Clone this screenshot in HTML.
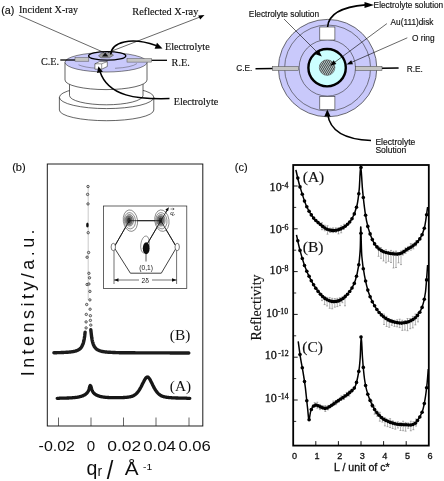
<!DOCTYPE html>
<html><head><meta charset="utf-8"><title>Figure</title>
<style>
html,body{margin:0;padding:0;background:#fff;}
svg{display:block;}
.se{font-family:"Liberation Serif",serif;fill:#111;}
text{fill:#111;}
.bd{stroke:#111;stroke-width:0.15px;}
.bd2{stroke:#111;stroke-width:0.3px;}
</style></head><body>
<svg width="444" height="481" viewBox="0 0 444 481">
<rect width="444" height="481" fill="#fff"/>
<defs><filter id="soft" x="0" y="0" width="444" height="481" filterUnits="userSpaceOnUse"><feGaussianBlur stdDeviation="0.38"/></filter></defs>
<g filter="url(#soft)">
<g id="a-left">
<path d="M59.4 97.3 A47.2 11 0 0 1 153.8 97.3 L153.8 110 A47.2 10.7 0 0 1 59.4 110 Z" fill="#fff" stroke="#222" stroke-width="0.7"/>
<path d="M59.4 97.3 A47.2 11.3 0 0 0 153.8 97.3" fill="none" stroke="#222" stroke-width="0.7"/>
<path d="M69.5 78 L69.5 95.5 A36.75 9.3 0 0 0 143 95.5 L143 78 Z" fill="#fff" stroke="#222" stroke-width="0.7"/>
<path d="M65 62.3 L65 80 A41 9.6 0 0 0 147 80 L147 62.3 Z" fill="#fff" stroke="#222" stroke-width="0.7"/>
<ellipse cx="106" cy="62.3" rx="41" ry="9.7" fill="#c9c9fb" stroke="#333" stroke-width="0.6"/>
<path d="M78.5 64.8 A30 7 0 0 0 97 68.3 M115 68.3 A30 7 0 0 0 137 63.5" fill="none" stroke="#444" stroke-width="0.45"/>
<line x1="60.3" y1="60" x2="75" y2="60" stroke="#000" stroke-width="1.3"/>
<rect x="75" y="57.7" width="13.8" height="3.5" fill="#c4c4c4" stroke="#555" stroke-width="0.5"/>
<line x1="150" y1="60.3" x2="167" y2="60.3" stroke="#000" stroke-width="1.3"/>
<rect x="127" y="58.6" width="24.7" height="3.5" fill="#c4c4c4" stroke="#555" stroke-width="0.5"/>
<ellipse cx="107.2" cy="55.9" rx="18.6" ry="4.25" fill="#c9c9fb" stroke="#000" stroke-width="1.3"/>
<path d="M98.5 56 L101.5 52.9 L110.5 52.5 L113.5 55.2 L109.5 57.8 L101 57.8 Z" fill="#999" stroke="#444" stroke-width="0.5"/>
<path d="M102 56.6 L105.2 52.4 L108.4 56.6 Z" fill="#111"/>
<path d="M94.9 63.8 L99.5 61.6 L107.3 61.6 L107.3 66.5 L101.7 69.2 L94.9 69.2 Z" fill="#fff" stroke="#333" stroke-width="0.6"/>
<path d="M94.9 63.8 L101.7 63.8 L107.3 61.6 M101.7 63.8 L101.7 69.2" fill="none" stroke="#333" stroke-width="0.5"/>
<line x1="18.8" y1="15.2" x2="104" y2="52.5" stroke="#000" stroke-width="0.6"/>
<line x1="108" y1="52.5" x2="200" y2="17" stroke="#000" stroke-width="0.6"/>
<path d="M204.5 15 L198.2 15.6 L200.2 19.4 Z" fill="#000"/>
<path d="M110.7 54.5 C111.5 42 131 36.5 156 45.5" fill="none" stroke="#000" stroke-width="1.5"/>
<path d="M162.5 48.6 L154.6 48.7 L157 42.8 Z" fill="#000"/>
<path d="M169.5 98.6 C138 99.5 108 97 99.8 71" fill="none" stroke="#000" stroke-width="1.5"/>
<path d="M98.4 66.3 L102.9 71.7 L97 73 Z" fill="#000"/>
<text x="1.2" y="14.2" font-family="Liberation Sans, sans-serif" font-size="10.8" class="bd">(a)</text>
<text x="19" y="13.3" class="se bd" font-size="10.1">Incident X-ray</text>
<text x="132.3" y="15.2" class="se bd" font-size="10.3">Reflected X-ray</text>
<text x="165" y="50.3" class="se bd" font-size="10.2">Electrolyte</text>
<text x="41" y="64.8" class="se bd" font-size="10.2">C.E.</text>
<text x="171.6" y="66.1" class="se bd" font-size="10.2">R.E.</text>
<text x="173.8" y="104.9" class="se bd" font-size="10.15">Electrolyte</text>
</g>
<g id="a-right">
<ellipse cx="327.6" cy="68.10000000000001" rx="49.2" ry="48.7" fill="#c9c9fb" stroke="#333" stroke-width="0.7"/>
<circle cx="327.6" cy="68.0" r="43" fill="none" stroke="#333" stroke-width="0.6"/>
<circle cx="327.3" cy="67.9" r="28.2" fill="none" stroke="#333" stroke-width="0.6"/>
<circle cx="327.1" cy="67.7" r="18.7" fill="#ccffff" stroke="#000" stroke-width="2.4"/>
<defs><pattern id="hx" width="2" height="3.4" patternUnits="userSpaceOnUse"><rect width="2" height="3.4" fill="#555"/><circle cx="0.5" cy="0.85" r="0.62" fill="#d4f4f4"/><circle cx="1.5" cy="2.55" r="0.62" fill="#d4f4f4"/></pattern></defs>
<circle cx="327.1" cy="67.60000000000001" r="7.8" fill="url(#hx)" stroke="#444" stroke-width="0.5"/>
<rect x="319.8" y="27" width="15.1" height="13" fill="#fff" stroke="#333" stroke-width="0.6"/>
<rect x="319.8" y="96.6" width="15.1" height="13" fill="#fff" stroke="#333" stroke-width="0.6"/>
<line x1="255.5" y1="68.8" x2="273" y2="68.5" stroke="#000" stroke-width="1.4"/>
<rect x="272.4" y="66.5" width="26.2" height="4" fill="#c4c4c4" stroke="#444" stroke-width="0.5"/>
<line x1="381" y1="68.2" x2="398.6" y2="68" stroke="#000" stroke-width="1.4"/>
<rect x="355.6" y="66.3" width="26.4" height="4.2" fill="#c4c4c4" stroke="#444" stroke-width="0.5"/>
<path d="M327.6 27 C328.5 15 340 7 365.5 4.9" fill="none" stroke="#000" stroke-width="1.6"/>
<path d="M374 4.9 L364.5 1.9 L364.5 7.9 Z" fill="#000"/>
<path d="M371 140.5 C345 139.5 329.8 131 327.7 114" fill="none" stroke="#000" stroke-width="1.6"/>
<path d="M327.3 109.6 L330.6 116.6 L324.3 116.6 Z" fill="#000"/>
<line x1="284" y1="19" x2="318" y2="53" stroke="#000" stroke-width="0.6"/>
<path d="M321.8 56.4 L315.6 54.2 L319 50.8 Z" fill="#000"/>
<line x1="386.9" y1="23.6" x2="334" y2="62.8" stroke="#000" stroke-width="0.6"/>
<path d="M330.2 65.7 L333.6 60.3 L336.4 64 Z" fill="#000"/>
<line x1="407.3" y1="37.8" x2="351" y2="62.6" stroke="#000" stroke-width="0.6"/>
<path d="M346.6 64.5 L351.2 60.2 L353 64.3 Z" fill="#000"/>
<text x="248.8" y="16.5" font-family="Liberation Sans, sans-serif" class="bd" font-size="8.4">Electrolyte solution</text>
<text x="373.6" y="7.7" font-family="Liberation Sans, sans-serif" class="bd" font-size="8.3">Electrolyte solution</text>
<text x="390.6" y="24.7" font-family="Liberation Sans, sans-serif" class="bd" font-size="8.25">Au(111)disk</text>
<text x="412" y="41.3" font-family="Liberation Sans, sans-serif" class="bd" font-size="8.3">O ring</text>
<text x="236.2" y="71.4" font-family="Liberation Sans, sans-serif" class="bd" font-size="8.3">C.E.</text>
<text x="406.7" y="72" font-family="Liberation Sans, sans-serif" class="bd" font-size="8.3">R.E.</text>
<text x="375.4" y="144.5" font-family="Liberation Sans, sans-serif" class="bd" font-size="8.55">Electrolyte</text>
<text x="375.4" y="153.4" font-family="Liberation Sans, sans-serif" class="bd" font-size="8.55">Solution</text>
</g>
<g id="b">
<rect x="47.3" y="164" width="155.5" height="262" fill="#fff" stroke="#111" stroke-width="0.95"/>
<line x1="58.5" y1="417.5" x2="58.5" y2="426" stroke="#222" stroke-width="0.7"/>
<line x1="91" y1="417.5" x2="91" y2="426" stroke="#222" stroke-width="0.7"/>
<line x1="123.5" y1="417.5" x2="123.5" y2="426" stroke="#222" stroke-width="0.7"/>
<line x1="156" y1="417.5" x2="156" y2="426" stroke="#222" stroke-width="0.7"/>
<line x1="189" y1="417.5" x2="189" y2="426" stroke="#222" stroke-width="0.7"/>
<path d="M57.2 398.3 L57.6 398.3 L58.0 398.3 L58.4 398.3 L58.8 398.3 L59.2 398.3 L59.6 398.2 L60.0 398.2 L60.4 398.2 L60.8 398.2 L61.2 398.2 L61.6 398.2 L62.0 398.2 L62.4 398.2 L62.8 398.2 L63.2 398.2 L63.6 398.2 L64.1 398.1 L64.5 398.1 L64.9 398.1 L65.3 398.1 L65.7 398.1 L66.1 398.1 L66.5 398.1 L66.9 398.0 L67.3 398.0 L67.7 398.0 L68.1 398.0 L68.5 398.0 L68.9 398.0 L69.3 397.9 L69.7 397.9 L70.1 397.9 L70.5 397.9 L70.9 397.8 L71.3 397.8 L71.7 397.8 L72.1 397.8 L72.5 397.7 L72.9 397.7 L73.3 397.7 L73.7 397.6 L74.1 397.6 L74.5 397.6 L74.9 397.5 L75.3 397.5 L75.7 397.4 L76.1 397.4 L76.5 397.3 L76.9 397.3 L77.4 397.2 L77.8 397.1 L78.2 397.1 L78.6 397.0 L79.0 396.9 L79.4 396.8 L79.8 396.7 L80.2 396.6 L80.6 396.5 L81.0 396.4 L81.4 396.3 L81.8 396.1 L82.2 396.0 L82.6 395.9 L83.0 395.7 L83.4 395.5 L83.8 395.3 L84.2 395.1 L84.6 394.9 L85.0 394.7 L85.4 394.4 L85.8 394.1 L86.2 393.8 L86.6 393.4 L87.0 393.0 L87.4 392.5 L87.8 392.0 L88.2 391.3 L88.6 390.3 L89.0 389.2 L89.4 387.7 L89.8 386.3 L90.2 385.5 L90.7 385.8 L91.1 387.0 L91.5 388.5 L91.9 389.8 L92.3 390.8 L92.7 391.6 L93.1 392.2 L93.5 392.8 L93.9 393.2 L94.3 393.6 L94.7 393.9 L95.1 394.2 L95.5 394.5 L95.9 394.7 L96.3 394.9 L96.7 395.2 L97.1 395.3 L97.5 395.5 L97.9 395.7 L98.3 395.8 L98.7 396.0 L99.1 396.1 L99.5 396.2 L99.9 396.4 L100.3 396.5 L100.7 396.6 L101.1 396.6 L101.5 396.7 L101.9 396.8 L102.3 396.9 L102.7 396.9 L103.1 397.0 L103.5 397.1 L104.0 397.1 L104.4 397.2 L104.8 397.2 L105.2 397.3 L105.6 397.3 L106.0 397.3 L106.4 397.4 L106.8 397.4 L107.2 397.4 L107.6 397.5 L108.0 397.5 L108.4 397.5 L108.8 397.5 L109.2 397.6 L109.6 397.6 L110.0 397.6 L110.4 397.6 L110.8 397.6 L111.2 397.6 L111.6 397.6 L112.0 397.7 L112.4 397.7 L112.8 397.7 L113.2 397.7 L113.6 397.7 L114.0 397.7 L114.4 397.7 L114.8 397.7 L115.2 397.7 L115.6 397.7 L116.0 397.7 L116.4 397.7 L116.8 397.7 L117.3 397.7 L117.7 397.7 L118.1 397.7 L118.5 397.7 L118.9 397.7 L119.3 397.7 L119.7 397.7 L120.1 397.7 L120.5 397.6 L120.9 397.6 L121.3 397.6 L121.7 397.6 L122.1 397.6 L122.5 397.6 L122.9 397.6 L123.3 397.5 L123.7 397.5 L124.1 397.5 L124.5 397.5 L124.9 397.4 L125.3 397.4 L125.7 397.4 L126.1 397.3 L126.5 397.3 L126.9 397.3 L127.3 397.2 L127.7 397.2 L128.1 397.1 L128.5 397.1 L128.9 397.0 L129.3 396.9 L129.7 396.9 L130.2 396.8 L130.6 396.7 L131.0 396.6 L131.4 396.5 L131.8 396.4 L132.2 396.2 L132.6 396.1 L133.0 395.9 L133.4 395.7 L133.8 395.5 L134.2 395.3 L134.6 395.0 L135.0 394.8 L135.4 394.5 L135.8 394.2 L136.2 393.8 L136.6 393.4 L137.0 393.0 L137.4 392.5 L137.8 392.1 L138.2 391.5 L138.6 391.0 L139.0 390.4 L139.4 389.8 L139.8 389.1 L140.2 388.4 L140.6 387.7 L141.0 387.0 L141.4 386.2 L141.8 385.4 L142.2 384.6 L142.6 383.7 L143.0 382.9 L143.5 382.1 L143.9 381.3 L144.3 380.5 L144.7 379.7 L145.1 379.1 L145.5 378.5 L145.9 377.9 L146.3 377.5 L146.7 377.2 L147.1 377.1 L147.5 377.0 L147.9 377.1 L148.3 377.3 L148.7 377.7 L149.1 378.2 L149.5 378.7 L149.9 379.4 L150.3 380.1 L150.7 380.9 L151.1 381.7 L151.5 382.5 L151.9 383.3 L152.3 384.1 L152.7 385.0 L153.1 385.8 L153.5 386.6 L153.9 387.4 L154.3 388.1 L154.7 388.8 L155.1 389.5 L155.5 390.1 L155.9 390.7 L156.3 391.3 L156.8 391.9 L157.2 392.4 L157.6 392.8 L158.0 393.3 L158.4 393.7 L158.8 394.0 L159.2 394.4 L159.6 394.7 L160.0 395.0 L160.4 395.2 L160.8 395.5 L161.2 395.7 L161.6 395.9 L162.0 396.1 L162.4 396.2 L162.8 396.4 L163.2 396.5 L163.6 396.6 L164.0 396.8 L164.4 396.9 L164.8 396.9 L165.2 397.0 L165.6 397.1 L166.0 397.2 L166.4 397.2 L166.8 397.3 L167.2 397.4 L167.6 397.4 L168.0 397.4 L168.4 397.5 L168.8 397.5 L169.2 397.6 L169.6 397.6 L170.1 397.6 L170.5 397.7 L170.9 397.7 L171.3 397.7 L171.7 397.8 L172.1 397.8 L172.5 397.8 L172.9 397.8 L173.3 397.8 L173.7 397.9 L174.1 397.9 L174.5 397.9 L174.9 397.9 L175.3 397.9 L175.7 398.0 L176.1 398.0 L176.5 398.0 L176.9 398.0 L177.3 398.0 L177.7 398.0 L178.1 398.0 L178.5 398.1 L178.9 398.1 L179.3 398.1 L179.7 398.1 L180.1 398.1 L180.5 398.1 L180.9 398.1 L181.3 398.1 L181.7 398.2 L182.1 398.2 L182.5 398.2 L182.9 398.2 L183.4 398.2 L183.8 398.2 L184.2 398.2 L184.6 398.2 L185.0 398.2 L185.4 398.2 L185.8 398.2 L186.2 398.2 L186.6 398.2 L187.0 398.3 L187.4 398.3 L187.8 398.3 L188.2 398.3 L188.6 398.3 L189.0 398.3 L189.4 398.3 L189.8 398.3" fill="none" stroke="#151515" stroke-width="3.3" stroke-linejoin="round" stroke-linecap="round"/>
<path d="M53.9 352.7 L54.4 352.7 L54.8 352.7 L55.2 352.7 L55.6 352.7 L56.0 352.7 L56.4 352.7 L56.8 352.7 L57.2 352.6 L57.6 352.6 L58.0 352.6 L58.5 352.6 L58.9 352.6 L59.3 352.6 L59.7 352.6 L60.1 352.6 L60.5 352.6 L60.9 352.6 L61.3 352.5 L61.7 352.5 L62.1 352.5 L62.6 352.5 L63.0 352.5 L63.4 352.5 L63.8 352.4 L64.2 352.4 L64.6 352.4 L65.0 352.4 L65.4 352.4 L65.8 352.3 L66.2 352.3 L66.7 352.3 L67.1 352.3 L67.5 352.2 L67.9 352.2 L68.3 352.2 L68.7 352.1 L69.1 352.1 L69.5 352.1 L69.9 352.0 L70.3 352.0 L70.8 351.9 L71.2 351.9 L71.6 351.8 L72.0 351.8 L72.4 351.7 L72.8 351.6 L73.2 351.6 L73.6 351.5 L74.0 351.4 L74.4 351.3 L74.9 351.2 L75.3 351.1 L75.7 351.0 L76.1 350.9 L76.5 350.7 L76.9 350.6 L77.3 350.4 L77.7 350.2 L78.1 350.0 L78.5 349.8 L79.0 349.5 L79.4 349.3 L79.8 348.9 L80.2 348.6 L80.6 348.1 L81.0 347.7 L81.4 347.1 L81.8 346.5 L82.2 345.7 L82.6 344.8 L83.1 343.7 L83.5 342.4 L83.9 340.7 L84.3 338.6 L84.7 335.9 L85.1 332.1" fill="none" stroke="#1c1c1c" stroke-width="3.4" stroke-linejoin="round" stroke-linecap="round"/>
<path d="M90.8 329.8 L91.3 334.2 L91.7 337.4 L92.1 339.8 L92.5 341.6 L92.9 343.1 L93.3 344.3 L93.7 345.3 L94.1 346.1 L94.5 346.8 L94.9 347.4 L95.4 347.9 L95.8 348.4 L96.2 348.8 L96.6 349.1 L97.0 349.4 L97.4 349.7 L97.8 349.9 L98.2 350.1 L98.6 350.3 L99.0 350.5 L99.5 350.7 L99.9 350.8 L100.3 350.9 L100.7 351.1 L101.1 351.2 L101.5 351.3 L101.9 351.4 L102.3 351.5 L102.7 351.5 L103.1 351.6 L103.6 351.7 L104.0 351.7 L104.4 351.8 L104.8 351.9 L105.2 351.9 L105.6 352.0 L106.0 352.0 L106.4 352.0 L106.8 352.1 L107.2 352.1 L107.7 352.2 L108.1 352.2 L108.5 352.2 L108.9 352.2 L109.3 352.3 L109.7 352.3 L110.1 352.3 L110.5 352.3 L110.9 352.4 L111.3 352.4 L111.8 352.4 L112.2 352.4 L112.6 352.4 L113.0 352.5 L113.4 352.5 L113.8 352.5 L114.2 352.5 L114.6 352.5 L115.0 352.5 L115.4 352.6 L115.9 352.6 L116.3 352.6 L116.7 352.6 L117.1 352.6 L117.5 352.6 L117.9 352.6 L118.3 352.6 L118.7 352.6 L119.1 352.7 L119.5 352.7 L120.0 352.7 L120.4 352.7 L120.8 352.7 L121.2 352.7 L121.6 352.7 L122.0 352.7 L122.4 352.7 L122.8 352.7 L123.2 352.7 L123.6 352.7 L124.1 352.7 L124.5 352.7 L124.9 352.8 L125.3 352.8 L125.7 352.8 L126.1 352.8 L126.5 352.8 L126.9 352.8 L127.3 352.8 L127.7 352.8 L128.2 352.8 L128.6 352.8 L129.0 352.8 L129.4 352.8 L129.8 352.8 L130.2 352.8 L130.6 352.8 L131.0 352.8 L131.4 352.8 L131.8 352.8 L132.3 352.8 L132.7 352.8 L133.1 352.8 L133.5 352.8 L133.9 352.8 L134.3 352.8 L134.7 352.8 L135.1 352.8 L135.5 352.9 L135.9 352.9 L136.4 352.9 L136.8 352.9 L137.2 352.9 L137.6 352.9 L138.0 352.9 L138.4 352.9 L138.8 352.9 L139.2 352.9 L139.6 352.9 L140.0 352.9 L140.5 352.9 L140.9 352.9 L141.3 352.9 L141.7 352.9 L142.1 352.9 L142.5 352.9 L142.9 352.9 L143.3 352.9 L143.7 352.9 L144.1 352.9 L144.5 352.9 L145.0 352.9 L145.4 352.9 L145.8 352.9 L146.2 352.9 L146.6 352.9 L147.0 352.9 L147.4 352.9 L147.8 352.9 L148.2 352.9 L148.6 352.9 L149.1 352.9 L149.5 352.9 L149.9 352.9 L150.3 352.9 L150.7 352.9 L151.1 352.9 L151.5 352.9 L151.9 352.9 L152.3 352.9 L152.7 352.9 L153.2 352.9 L153.6 352.9 L154.0 352.9 L154.4 352.9 L154.8 352.9 L155.2 352.9 L155.6 352.9 L156.0 352.9 L156.4 352.9 L156.8 352.9 L157.3 352.9 L157.7 352.9 L158.1 352.9 L158.5 352.9 L158.9 352.9 L159.3 352.9 L159.7 352.9 L160.1 352.9 L160.5 352.9 L160.9 352.9 L161.4 352.9 L161.8 352.9 L162.2 352.9 L162.6 352.9 L163.0 352.9 L163.4 352.9 L163.8 352.9 L164.2 352.9 L164.6 352.9 L165.0 352.9 L165.5 352.9 L165.9 352.9 L166.3 352.9 L166.7 352.9 L167.1 352.9 L167.5 352.9 L167.9 352.9 L168.3 352.9 L168.7 352.9 L169.1 352.9 L169.6 352.9 L170.0 352.9 L170.4 353.0 L170.8 353.0 L171.2 353.0 L171.6 353.0 L172.0 353.0 L172.4 353.0 L172.8 353.0 L173.2 353.0 L173.7 353.0 L174.1 353.0 L174.5 353.0 L174.9 353.0 L175.3 353.0 L175.7 353.0 L176.1 353.0 L176.5 353.0 L176.9 353.0 L177.3 353.0 L177.8 353.0 L178.2 353.0 L178.6 353.0 L179.0 353.0 L179.4 353.0 L179.8 353.0 L180.2 353.0 L180.6 353.0 L181.0 353.0 L181.4 353.0 L181.9 353.0 L182.3 353.0 L182.7 353.0 L183.1 353.0 L183.5 353.0 L183.9 353.0 L184.3 353.0 L184.7 353.0 L185.1 353.0 L185.5 353.0 L186.0 353.0 L186.4 353.0 L186.8 353.0 L187.2 353.0 L187.6 353.0 L188.0 353.0 L188.4 353.0 L188.8 353.0" fill="none" stroke="#1c1c1c" stroke-width="3.4" stroke-linejoin="round" stroke-linecap="round"/>
<line x1="88.2" y1="187" x2="88.2" y2="300" stroke="#bdbdbd" stroke-width="0.8"/>
<circle cx="88" cy="186.5" r="1.2" fill="#ddd" stroke="#222" stroke-width="0.7"/>
<circle cx="87.6" cy="194.4" r="1.2" fill="#ddd" stroke="#222" stroke-width="0.7"/>
<circle cx="88" cy="203.9" r="1.2" fill="#ddd" stroke="#222" stroke-width="0.7"/>
<circle cx="88.2" cy="232.7" r="1.2" fill="#ddd" stroke="#222" stroke-width="0.7"/>
<circle cx="88.6" cy="252.5" r="1.2" fill="#ddd" stroke="#222" stroke-width="0.7"/>
<circle cx="87.1" cy="257.2" r="1.2" fill="#ddd" stroke="#222" stroke-width="0.7"/>
<circle cx="88.9" cy="273.3" r="1.2" fill="#ddd" stroke="#222" stroke-width="0.7"/>
<circle cx="89.5" cy="277.8" r="1.2" fill="#ddd" stroke="#222" stroke-width="0.7"/>
<circle cx="87.1" cy="284.5" r="1.2" fill="#ddd" stroke="#222" stroke-width="0.7"/>
<circle cx="88.9" cy="284" r="1.2" fill="#ddd" stroke="#222" stroke-width="0.7"/>
<circle cx="89.9" cy="291.4" r="1.2" fill="#ddd" stroke="#222" stroke-width="0.7"/>
<circle cx="89.9" cy="299.9" r="1.2" fill="#ddd" stroke="#222" stroke-width="0.7"/>
<circle cx="86.7" cy="304.5" r="1.2" fill="#ddd" stroke="#222" stroke-width="0.7"/>
<circle cx="90.1" cy="309.2" r="1.2" fill="#ddd" stroke="#222" stroke-width="0.7"/>
<circle cx="86.3" cy="314.4" r="1.2" fill="#ddd" stroke="#222" stroke-width="0.7"/>
<circle cx="90.4" cy="315.7" r="1.2" fill="#ddd" stroke="#222" stroke-width="0.7"/>
<circle cx="90.4" cy="320.4" r="1.2" fill="#ddd" stroke="#222" stroke-width="0.7"/>
<circle cx="86.1" cy="321.9" r="1.2" fill="#ddd" stroke="#222" stroke-width="0.7"/>
<circle cx="90.8" cy="325.1" r="1.2" fill="#ddd" stroke="#222" stroke-width="0.7"/>
<circle cx="86.1" cy="327.9" r="1.2" fill="#ddd" stroke="#222" stroke-width="0.7"/>
<ellipse cx="87.4" cy="225" rx="1.3" ry="2.6" fill="#111"/>
<text transform="translate(169.8,340.3) scale(1.13,1)" class="se" font-size="13.6">(B)</text>
<text transform="translate(169.8,390.9) scale(1.13,1)" class="se" font-size="13.6">(A)</text>
<text x="12.2" y="171.2" font-family="Liberation Sans, sans-serif" font-size="11" class="bd">(b)</text>
<text x="38.6" y="450.5" font-family="Liberation Sans, sans-serif" font-size="14.8" fill="#111" textLength="36.4" lengthAdjust="spacingAndGlyphs">-0.02</text>
<text x="86.8" y="450.5" font-family="Liberation Sans, sans-serif" font-size="14.8" fill="#111" textLength="8.4" lengthAdjust="spacingAndGlyphs">0</text>
<text x="107.3" y="450.5" font-family="Liberation Sans, sans-serif" font-size="14.8" fill="#111" textLength="34" lengthAdjust="spacingAndGlyphs">0.02</text>
<text x="143.2" y="450.5" font-family="Liberation Sans, sans-serif" font-size="14.8" fill="#111" textLength="32.6" lengthAdjust="spacingAndGlyphs">0.04</text>
<text x="178.4" y="450.5" font-family="Liberation Sans, sans-serif" font-size="14.8" fill="#111" textLength="32.4" lengthAdjust="spacingAndGlyphs">0.06</text>
<text x="86.6" y="475" font-family="Liberation Sans, sans-serif" fill="#111" font-size="19.5">q</text>
<text x="97.6" y="475.7" font-family="Liberation Sans, sans-serif" fill="#111" font-size="13.9">r</text>
<text x="106.8" y="479.2" font-family="Liberation Sans, sans-serif" fill="#111" font-size="26" textLength="6.6" lengthAdjust="spacingAndGlyphs">/</text>
<text x="124.8" y="475.2" font-family="Liberation Sans, sans-serif" fill="#111" font-size="17.5" textLength="13.8" lengthAdjust="spacingAndGlyphs">Å</text>
<text x="143" y="470.4" font-family="Liberation Sans, sans-serif" fill="#111" font-size="9.6" textLength="9.2" lengthAdjust="spacingAndGlyphs">-1</text>
<text transform="translate(34.4,376.3) rotate(-90)" font-family="Liberation Sans, sans-serif" font-size="18" letter-spacing="3.45" fill="#111">Intensity/a.u.</text>
<rect x="103.4" y="206" width="83.4" height="82.5" fill="#fff" stroke="#222" stroke-width="0.7"/>
<polygon points="129.3,220.7 160.8,220.7 176.6,247.3 161.3,273.2 130.4,273.2 114,247.3" fill="none" stroke="#111" stroke-width="0.8"/>
<line x1="146" y1="246" x2="167.5" y2="209.5" stroke="#111" stroke-width="0.8"/>
<path d="M169 207.3 L165.3 209.5 L168 211.2 Z" fill="#111"/>
<line x1="114" y1="250" x2="114" y2="284" stroke="#111" stroke-width="0.6"/>
<line x1="176.6" y1="250" x2="176.6" y2="284" stroke="#111" stroke-width="0.6"/>
<line x1="114" y1="280" x2="139" y2="280" stroke="#111" stroke-width="0.6"/>
<line x1="152" y1="280" x2="176.6" y2="280" stroke="#111" stroke-width="0.6"/>
<path d="M114 280 L118.5 278.3 L118.5 281.7 Z M176.6 280 L172 278.3 L172 281.7 Z" fill="#111"/>
<ellipse cx="130.4" cy="220.79999999999998" rx="7.1" ry="10.8" fill="#fff" stroke="#222" stroke-width="0.5" transform="rotate(-8 129.3 220.7)"/>
<ellipse cx="129.9" cy="220.79999999999998" rx="5.6" ry="8.2" fill="#f4f4f4" stroke="#333" stroke-width="0.5" transform="rotate(-6 129.3 220.7)"/>
<ellipse cx="129.4" cy="220.29999999999998" rx="4.2" ry="5.8" fill="#bbb" stroke="#333" stroke-width="0.5"/>
<ellipse cx="129.10000000000002" cy="220.29999999999998" rx="3" ry="4.3" fill="#777" stroke="#333" stroke-width="0.4"/>
<ellipse cx="129.0" cy="220.29999999999998" rx="1.8" ry="2.9" fill="#333"/>
<ellipse cx="161.9" cy="220.79999999999998" rx="7.1" ry="10.8" fill="#fff" stroke="#222" stroke-width="0.5" transform="rotate(-8 160.8 220.7)"/>
<ellipse cx="161.4" cy="220.79999999999998" rx="5.6" ry="8.2" fill="#f4f4f4" stroke="#333" stroke-width="0.5" transform="rotate(-6 160.8 220.7)"/>
<ellipse cx="160.9" cy="220.29999999999998" rx="4.2" ry="5.8" fill="#bbb" stroke="#333" stroke-width="0.5"/>
<ellipse cx="160.60000000000002" cy="220.29999999999998" rx="3" ry="4.3" fill="#777" stroke="#333" stroke-width="0.4"/>
<ellipse cx="160.5" cy="220.29999999999998" rx="1.8" ry="2.9" fill="#333"/>
<polyline points="114,247.3 129.3,220.7 160.8,220.7 176.6,247.3" fill="none" stroke="#111" stroke-width="0.8"/>
<line x1="146" y1="246" x2="167.5" y2="209.5" stroke="#111" stroke-width="0.8"/>
<ellipse cx="113.3" cy="247" rx="2.2" ry="3.7" fill="#fff" stroke="#222" stroke-width="0.6"/>
<ellipse cx="177.2" cy="247" rx="2.2" ry="3.7" fill="#fff" stroke="#222" stroke-width="0.6"/>
<ellipse cx="145" cy="244.5" rx="4.2" ry="8.6" fill="none" stroke="#333" stroke-width="0.5" transform="rotate(8 145 244.5)"/>
<ellipse cx="146.2" cy="248.2" rx="3.4" ry="6" fill="#111"/>
<line x1="146" y1="252" x2="146" y2="261.5" stroke="#111" stroke-width="0.7"/>
<text x="139.3" y="269.8" font-family="Liberation Sans, sans-serif" fill="#111" font-size="6.6">(0,1)</text>
<text x="141.5" y="283" font-family="Liberation Sans, sans-serif" fill="#111" font-size="6.6">2δ</text>
<text x="170.2" y="214.5" font-family="Liberation Sans, sans-serif" fill="#111" font-size="6" font-style="italic">q<tspan font-size="4" dy="1.5">r</tspan></text>
<path d="M170.5 209 L174 209 M172.8 208 L174.2 209 L172.8 210" fill="none" stroke="#111" stroke-width="0.5"/>
</g>
<g id="c">
<rect x="293.2" y="165" width="135.60000000000002" height="280.6" fill="#fff" stroke="#000" stroke-width="1.8"/>
<clipPath id="cc"><rect x="293.2" y="165" width="135.60000000000002" height="280.6"/></clipPath>
<line x1="293.2" y1="186.0" x2="297.7" y2="186.0" stroke="#000" stroke-width="0.9"/>
<line x1="293.2" y1="207.4" x2="296.2" y2="207.4" stroke="#000" stroke-width="0.8"/>
<text x="269.6" y="190.9" class="se bd2" font-size="12.1">10</text>
<text x="281.8" y="187.6" class="se bd2" font-size="7.8">-4</text>
<line x1="293.2" y1="228.8" x2="297.7" y2="228.8" stroke="#000" stroke-width="0.9"/>
<line x1="293.2" y1="250.2" x2="296.2" y2="250.2" stroke="#000" stroke-width="0.8"/>
<text x="269.6" y="233.1" class="se bd2" font-size="12.1">10</text>
<text x="281.8" y="229.8" class="se bd2" font-size="7.8">-6</text>
<line x1="293.2" y1="271.6" x2="297.7" y2="271.6" stroke="#000" stroke-width="0.9"/>
<line x1="293.2" y1="293.0" x2="296.2" y2="293.0" stroke="#000" stroke-width="0.8"/>
<text x="269.6" y="273.8" class="se bd2" font-size="12.1">10</text>
<text x="281.8" y="270.5" class="se bd2" font-size="7.8">-8</text>
<line x1="293.2" y1="314.4" x2="297.7" y2="314.4" stroke="#000" stroke-width="0.9"/>
<line x1="293.2" y1="335.8" x2="296.2" y2="335.8" stroke="#000" stroke-width="0.8"/>
<text x="265.90000000000003" y="317.4" class="se bd2" font-size="12.1">10</text>
<text x="277.7" y="314.1" class="se bd2" font-size="7.8">-10</text>
<line x1="293.2" y1="357.2" x2="297.7" y2="357.2" stroke="#000" stroke-width="0.9"/>
<line x1="293.2" y1="378.6" x2="296.2" y2="378.6" stroke="#000" stroke-width="0.8"/>
<text x="264.8" y="358.8" class="se bd2" font-size="12.1">10</text>
<text x="278.2" y="355.5" class="se bd2" font-size="7.8">-12</text>
<line x1="293.2" y1="400.0" x2="297.7" y2="400.0" stroke="#000" stroke-width="0.9"/>
<line x1="293.2" y1="421.4" x2="296.2" y2="421.4" stroke="#000" stroke-width="0.8"/>
<text x="264.8" y="402.4" class="se bd2" font-size="12.1">10</text>
<text x="278.2" y="399.1" class="se bd2" font-size="7.8">-14</text>
<line x1="315.8" y1="445.6" x2="315.8" y2="441.1" stroke="#000" stroke-width="0.9"/>
<line x1="338.4" y1="445.6" x2="338.4" y2="441.1" stroke="#000" stroke-width="0.9"/>
<line x1="361.0" y1="445.6" x2="361.0" y2="441.1" stroke="#000" stroke-width="0.9"/>
<line x1="383.6" y1="445.6" x2="383.6" y2="441.1" stroke="#000" stroke-width="0.9"/>
<line x1="406.2" y1="445.6" x2="406.2" y2="441.1" stroke="#000" stroke-width="0.9"/>
<path d="M322.0 222.7 L322.0 229.7 M321.0 229.7 L323.0 229.7 M321.0 222.7 L323.0 222.7 M324.8 225.2 L324.8 230.8 M323.8 230.8 L325.8 230.8 M323.8 225.2 L325.8 225.2 M327.5 225.7 L327.5 234.2 M326.5 234.2 L328.5 234.2 M326.5 225.7 L328.5 225.7 M330.2 228.1 L330.2 232.5 M329.2 232.5 L331.2 232.5 M329.2 228.1 L331.2 228.1 M333.0 227.9 L333.0 232.6 M332.0 232.6 L334.0 232.6 M332.0 227.9 L334.0 227.9 M335.8 227.8 L335.8 232.5 M334.8 232.5 L336.8 232.5 M334.8 227.8 L336.8 227.8 M338.5 227.6 L338.5 233.9 M337.5 233.9 L339.5 233.9 M337.5 227.6 L339.5 227.6 M341.2 225.8 L341.2 232.8 M340.2 232.8 L342.2 232.8 M340.2 225.8 L342.2 225.8 M344.0 224.3 L344.0 229.2 M343.0 229.2 L345.0 229.2 M343.0 224.3 L345.0 224.3 M378.5 246.4 L378.5 256.3 M377.5 256.3 L379.5 256.3 M377.5 246.4 L379.5 246.4 M381.0 247.7 L381.0 258.3 M380.0 258.3 L382.0 258.3 M380.0 247.7 L382.0 247.7 M383.5 250.1 L383.5 261.0 M382.5 261.0 L384.5 261.0 M382.5 250.1 L384.5 250.1 M386.0 249.7 L386.0 262.8 M385.0 262.8 L387.0 262.8 M385.0 249.7 L387.0 249.7 M388.5 251.4 L388.5 261.3 M387.5 261.3 L389.5 261.3 M387.5 251.4 L389.5 251.4 M391.0 250.4 L391.0 262.5 M390.0 262.5 L392.0 262.5 M390.0 250.4 L392.0 250.4 M393.5 251.3 L393.5 268.0 M392.5 268.0 L394.5 268.0 M392.5 251.3 L394.5 251.3 M396.0 251.1 L396.0 267.5 M395.0 267.5 L397.0 267.5 M395.0 251.1 L397.0 251.1 M398.5 252.5 L398.5 262.8 M397.5 262.8 L399.5 262.8 M397.5 252.5 L399.5 252.5 M401.0 250.9 L401.0 264.6 M400.0 264.6 L402.0 264.6 M400.0 250.9 L402.0 250.9 M403.0 250.2 L403.0 255.0 M402.0 255.0 L404.0 255.0 M402.0 250.2 L404.0 250.2 M405.6 247.8 L405.6 253.3 M404.6 253.3 L406.6 253.3 M404.6 247.8 L406.6 247.8 M408.2 246.4 L408.2 251.1 M407.2 251.1 L409.2 251.1 M407.2 246.4 L409.2 246.4 M410.8 243.6 L410.8 250.2 M409.8 250.2 L411.8 250.2 M409.8 243.6 L411.8 243.6 M413.4 243.4 L413.4 248.9 M412.4 248.9 L414.4 248.9 M412.4 243.4 L414.4 243.4 M416.0 240.8 L416.0 245.9 M415.0 245.9 L417.0 245.9 M415.0 240.8 L417.0 240.8 M322.0 293.9 L322.0 300.6 M321.0 300.6 L323.0 300.6 M321.0 293.9 L323.0 293.9 M324.6 296.5 L324.6 304.6 M323.6 304.6 L325.6 304.6 M323.6 296.5 L325.6 296.5 M327.1 297.4 L327.1 306.0 M326.1 306.0 L328.1 306.0 M326.1 297.4 L328.1 297.4 M329.7 297.6 L329.7 308.3 M328.7 308.3 L330.7 308.3 M328.7 297.6 L330.7 297.6 M332.2 298.3 L332.2 308.8 M331.2 308.8 L333.2 308.8 M331.2 298.3 L333.2 298.3 M334.8 298.5 L334.8 307.2 M333.8 307.2 L335.8 307.2 M333.8 298.5 L335.8 298.5 M337.3 298.3 L337.3 306.6 M336.3 306.6 L338.3 306.6 M336.3 298.3 L338.3 298.3 M339.9 297.7 L339.9 305.6 M338.9 305.6 L340.9 305.6 M338.9 297.7 L340.9 297.7 M342.4 296.8 L342.4 302.7 M341.4 302.7 L343.4 302.7 M341.4 296.8 L343.4 296.8 M345.0 294.8 L345.0 305.8 M344.0 305.8 L346.0 305.8 M344.0 294.8 L346.0 294.8 M384.0 314.1 L384.0 324.5 M383.0 324.5 L385.0 324.5 M383.0 314.1 L385.0 314.1 M386.6 316.3 L386.6 326.5 M385.6 326.5 L387.6 326.5 M385.6 316.3 L387.6 316.3 M389.2 318.8 L389.2 327.3 M388.2 327.3 L390.2 327.3 M388.2 318.8 L390.2 318.8 M391.8 319.4 L391.8 325.3 M390.8 325.3 L392.8 325.3 M390.8 319.4 L392.8 319.4 M394.5 320.3 L394.5 326.4 M393.5 326.4 L395.5 326.4 M393.5 320.3 L395.5 320.3 M397.1 319.8 L397.1 326.8 M396.1 326.8 L398.1 326.8 M396.1 319.8 L398.1 319.8 M399.7 319.2 L399.7 327.6 M398.7 327.6 L400.7 327.6 M398.7 319.2 L400.7 319.2 M402.3 320.2 L402.3 330.4 M401.3 330.4 L403.3 330.4 M401.3 320.2 L403.3 320.2 M404.9 320.5 L404.9 330.1 M403.9 330.1 L405.9 330.1 M403.9 320.5 L405.9 320.5 M407.5 318.5 L407.5 330.7 M406.5 330.7 L408.5 330.7 M406.5 318.5 L408.5 318.5 M410.2 318.5 L410.2 328.7 M409.2 328.7 L411.2 328.7 M409.2 318.5 L411.2 318.5 M412.8 316.4 L412.8 327.9 M411.8 327.9 L413.8 327.9 M411.8 316.4 L413.8 316.4 M415.4 314.0 L415.4 324.9 M414.4 324.9 L416.4 324.9 M414.4 314.0 L416.4 314.0 M418.0 312.5 L418.0 321.9 M417.0 321.9 L419.0 321.9 M417.0 312.5 L419.0 312.5 M312.0 406.4 L312.0 410.4 M311.0 410.4 L313.0 410.4 M311.0 406.4 L313.0 406.4 M314.7 402.6 L314.7 407.0 M313.7 407.0 L315.7 407.0 M313.7 402.6 L315.7 402.6 M317.3 402.2 L317.3 408.2 M316.3 408.2 L318.3 408.2 M316.3 402.2 L318.3 402.2 M320.0 404.4 L320.0 409.6 M319.0 409.6 L321.0 409.6 M319.0 404.4 L321.0 404.4 M322.7 405.5 L322.7 409.2 M321.7 409.2 L323.7 409.2 M321.7 405.5 L323.7 405.5 M325.3 405.6 L325.3 411.5 M324.3 411.5 L326.3 411.5 M324.3 405.6 L326.3 405.6 M328.0 405.4 L328.0 409.8 M327.0 409.8 L329.0 409.8 M327.0 405.4 L329.0 405.4 M330.7 404.3 L330.7 407.6 M329.7 407.6 L331.7 407.6 M329.7 404.3 L331.7 404.3 M333.3 401.0 L333.3 405.5 M332.3 405.5 L334.3 405.5 M332.3 401.0 L334.3 401.0 M336.0 400.6 L336.0 404.7 M335.0 404.7 L337.0 404.7 M335.0 400.6 L337.0 400.6 M338.7 399.0 L338.7 402.4 M337.7 402.4 L339.7 402.4 M337.7 399.0 L339.7 399.0 M341.3 395.9 L341.3 400.3 M340.3 400.3 L342.3 400.3 M340.3 395.9 L342.3 395.9 M344.0 394.6 L344.0 399.4 M343.0 399.4 L345.0 399.4 M343.0 394.6 L345.0 394.6 M346.7 392.4 L346.7 396.8 M345.7 396.8 L347.7 396.8 M345.7 392.4 L347.7 392.4 M349.3 390.8 L349.3 396.1 M348.3 396.1 L350.3 396.1 M348.3 390.8 L350.3 390.8 M352.0 389.2 L352.0 392.0 M351.0 392.0 L353.0 392.0 M351.0 389.2 L353.0 389.2 M372.0 400.9 L372.0 407.5 M371.0 407.5 L373.0 407.5 M371.0 400.9 L373.0 400.9 M374.6 406.0 L374.6 414.2 M373.6 414.2 L375.6 414.2 M373.6 406.0 L375.6 406.0 M377.2 410.9 L377.2 416.3 M376.2 416.3 L378.2 416.3 M376.2 410.9 L378.2 410.9 M379.8 412.3 L379.8 421.2 M378.8 421.2 L380.8 421.2 M378.8 412.3 L380.8 412.3 M382.4 416.6 L382.4 422.1 M381.4 422.1 L383.4 422.1 M381.4 416.6 L383.4 416.6 M384.9 417.7 L384.9 425.9 M383.9 425.9 L385.9 425.9 M383.9 417.7 L385.9 417.7 M387.5 419.3 L387.5 426.7 M386.5 426.7 L388.5 426.7 M386.5 419.3 L388.5 419.3 M390.1 418.7 L390.1 427.5 M389.1 427.5 L391.1 427.5 M389.1 418.7 L391.1 418.7 M392.7 420.8 L392.7 428.5 M391.7 428.5 L393.7 428.5 M391.7 420.8 L393.7 420.8 M395.3 422.0 L395.3 429.2 M394.3 429.2 L396.3 429.2 M394.3 422.0 L396.3 422.0 M397.9 421.8 L397.9 428.0 M396.9 428.0 L398.9 428.0 M396.9 421.8 L398.9 421.8 M400.5 422.7 L400.5 430.5 M399.5 430.5 L401.5 430.5 M399.5 422.7 L401.5 422.7 M403.1 421.2 L403.1 430.7 M402.1 430.7 L404.1 430.7 M402.1 421.2 L404.1 421.2 M405.6 422.4 L405.6 431.2 M404.6 431.2 L406.6 431.2 M404.6 422.4 L406.6 422.4 M408.2 422.9 L408.2 428.3 M407.2 428.3 L409.2 428.3 M407.2 422.9 L409.2 422.9 M410.8 421.2 L410.8 430.8 M409.8 430.8 L411.8 430.8 M409.8 421.2 L411.8 421.2 M413.4 421.7 L413.4 429.7 M412.4 429.7 L414.4 429.7 M412.4 421.7 L414.4 421.7 M416.0 419.0 L416.0 426.1 M415.0 426.1 L417.0 426.1 M415.0 419.0 L417.0 419.0" fill="none" stroke="#666" stroke-width="0.5" clip-path="url(#cc)"/>
<path d="M295.9 169.8 C296.5 172.4 298.1 180.4 299.8 186.1 C301.5 191.8 304.2 200.7 306.3 205.7 C308.4 210.7 310.8 214.3 312.9 217.2 C315.0 220.1 317.3 221.9 319.4 223.7 C321.5 225.5 323.9 227.5 325.9 228.6 C327.9 229.7 330.0 230.2 332.0 230.4 C334.0 230.6 336.3 230.5 338.5 229.8 C340.7 229.1 343.3 227.8 345.5 226.0 C347.7 224.2 350.2 222.0 352.0 218.8 C353.8 215.6 355.7 210.4 356.9 205.7 C358.1 201.0 358.6 195.8 359.2 189.4 C359.8 183.0 360.2 165.5 360.7 165.5 C361.2 165.5 361.8 181.9 362.5 189.4 C363.2 196.9 364.2 206.0 365.1 212.3 C366.0 218.6 367.1 223.9 368.4 228.6 C369.7 233.3 371.7 238.5 373.3 241.6 C374.9 244.7 376.4 246.5 378.2 248.2 C380.0 249.9 382.1 251.2 384.7 252.1 C387.3 253.0 391.9 253.8 394.5 254.0 C397.1 254.2 398.9 254.1 401.0 253.3 C403.1 252.5 405.5 250.3 407.6 249.0 C409.7 247.7 412.1 246.7 414.1 245.0 C416.1 243.3 418.3 241.4 420.0 238.6 C421.7 235.8 423.3 232.6 424.5 227.5 C425.7 222.4 427.1 210.3 427.6 207.0" fill="none" stroke="#000" stroke-width="1.5" stroke-linejoin="round" clip-path="url(#cc)"/>
<g fill="#000" clip-path="url(#cc)"><circle cx="297.8" cy="178.1" r="1.8"/><circle cx="300.0" cy="186.9" r="1.8"/><circle cx="302.3" cy="194.3" r="1.8"/><circle cx="304.5" cy="201.1" r="1.8"/><circle cx="306.8" cy="206.8" r="1.8"/><circle cx="309.1" cy="211.3" r="1.8"/><circle cx="311.3" cy="214.9" r="1.8"/><circle cx="313.6" cy="218.1" r="1.8"/><circle cx="315.8" cy="220.5" r="1.8"/><circle cx="318.1" cy="222.6" r="1.8"/><circle cx="320.4" cy="224.5" r="1.8"/><circle cx="322.6" cy="226.4" r="1.8"/><circle cx="324.9" cy="228.0" r="1.8"/><circle cx="327.1" cy="229.2" r="1.8"/><circle cx="329.4" cy="230.0" r="1.8"/><circle cx="331.7" cy="230.4" r="1.8"/><circle cx="333.9" cy="230.5" r="1.8"/><circle cx="336.2" cy="230.3" r="1.8"/><circle cx="338.4" cy="229.8" r="1.8"/><circle cx="340.7" cy="228.9" r="1.8"/><circle cx="343.0" cy="227.8" r="1.8"/><circle cx="345.2" cy="226.2" r="1.8"/><circle cx="347.5" cy="224.3" r="1.8"/><circle cx="349.7" cy="222.0" r="1.8"/><circle cx="352.0" cy="218.8" r="1.8"/><circle cx="354.3" cy="213.9" r="1.8"/><circle cx="356.5" cy="207.2" r="1.8"/><circle cx="358.8" cy="193.7" r="1.8"/><circle cx="361.0" cy="167.5" r="1.8"/><circle cx="363.3" cy="197.5" r="1.8"/><circle cx="365.6" cy="215.2" r="1.8"/><circle cx="367.8" cy="226.4" r="1.8"/><circle cx="370.1" cy="233.9" r="1.8"/><circle cx="372.3" cy="239.6" r="1.8"/><circle cx="374.6" cy="243.9" r="1.8"/><circle cx="376.9" cy="246.9" r="1.8"/><circle cx="379.1" cy="249.0" r="1.8"/><circle cx="381.4" cy="250.6" r="1.8"/><circle cx="383.6" cy="251.7" r="1.8"/><circle cx="385.9" cy="252.5" r="1.8"/><circle cx="388.2" cy="253.0" r="1.8"/><circle cx="390.4" cy="253.5" r="1.8"/><circle cx="392.7" cy="253.8" r="1.8"/><circle cx="394.9" cy="254.0" r="1.8"/><circle cx="397.2" cy="254.1" r="1.8"/><circle cx="399.5" cy="253.8" r="1.8"/><circle cx="401.7" cy="253.0" r="1.8"/><circle cx="404.0" cy="251.6" r="1.8"/><circle cx="406.2" cy="249.9" r="1.8"/><circle cx="408.5" cy="248.5" r="1.8"/><circle cx="410.8" cy="247.2" r="1.8"/><circle cx="413.0" cy="245.8" r="1.8"/><circle cx="415.3" cy="244.0" r="1.8"/><circle cx="417.5" cy="241.8" r="1.8"/><circle cx="419.8" cy="238.9" r="1.8"/><circle cx="422.1" cy="234.7" r="1.8"/><circle cx="424.3" cy="228.2" r="1.8"/><circle cx="426.6" cy="214.7" r="1.8"/></g>
<path d="M296.5 234.9 C297.0 237.3 298.5 244.6 299.8 249.6 C301.1 254.6 302.9 260.9 304.7 265.9 C306.5 270.9 309.1 276.6 311.2 280.6 C313.3 284.6 315.7 288.2 317.8 291.0 C319.9 293.8 322.2 296.4 324.3 298.0 C326.4 299.6 328.7 300.7 330.8 301.2 C332.9 301.7 335.3 301.7 337.4 301.2 C339.5 300.7 341.8 299.5 343.9 297.8 C346.0 296.1 348.6 293.4 350.4 290.6 C352.2 287.8 354.0 284.6 355.3 280.6 C356.6 276.6 357.8 270.9 358.6 265.9 C359.4 260.9 359.8 255.8 360.2 249.6 C360.6 243.4 360.5 226.0 360.8 227.0 C361.1 228.0 361.2 248.2 361.8 256.0 C362.4 263.8 363.4 269.9 364.5 275.7 C365.6 281.5 367.0 287.6 368.4 292.0 C369.8 296.4 371.5 300.1 373.3 303.5 C375.1 306.9 377.4 310.7 379.8 313.3 C382.2 315.9 385.4 318.3 388.0 319.8 C390.6 321.3 393.6 321.9 396.0 322.4 C398.4 322.9 400.3 323.3 402.7 323.0 C405.1 322.7 408.4 322.0 410.8 320.8 C413.2 319.6 415.6 317.9 417.4 315.6 C419.2 313.3 421.0 310.5 422.3 306.7 C423.6 302.9 424.7 298.7 425.5 292.0 C426.3 285.3 427.3 269.3 427.6 265.0" fill="none" stroke="#000" stroke-width="1.5" stroke-linejoin="round" clip-path="url(#cc)"/>
<g fill="#000" clip-path="url(#cc)"><circle cx="297.8" cy="240.8" r="1.8"/><circle cx="300.0" cy="250.4" r="1.8"/><circle cx="302.3" cy="258.5" r="1.8"/><circle cx="304.5" cy="265.5" r="1.8"/><circle cx="306.8" cy="271.2" r="1.8"/><circle cx="309.1" cy="276.3" r="1.8"/><circle cx="311.3" cy="280.8" r="1.8"/><circle cx="313.6" cy="284.8" r="1.8"/><circle cx="315.8" cy="288.3" r="1.8"/><circle cx="318.1" cy="291.4" r="1.8"/><circle cx="320.4" cy="294.2" r="1.8"/><circle cx="322.6" cy="296.5" r="1.8"/><circle cx="324.9" cy="298.4" r="1.8"/><circle cx="327.1" cy="299.8" r="1.8"/><circle cx="329.4" cy="300.8" r="1.8"/><circle cx="331.7" cy="301.4" r="1.8"/><circle cx="333.9" cy="301.6" r="1.8"/><circle cx="336.2" cy="301.4" r="1.8"/><circle cx="338.4" cy="300.9" r="1.8"/><circle cx="340.7" cy="299.9" r="1.8"/><circle cx="343.0" cy="298.5" r="1.8"/><circle cx="345.2" cy="296.6" r="1.8"/><circle cx="347.5" cy="294.3" r="1.8"/><circle cx="349.7" cy="291.5" r="1.8"/><circle cx="352.0" cy="288.0" r="1.8"/><circle cx="354.3" cy="283.4" r="1.8"/><circle cx="356.5" cy="276.3" r="1.8"/><circle cx="358.8" cy="264.7" r="1.8"/><circle cx="361.0" cy="233.2" r="1.8"/><circle cx="363.3" cy="268.7" r="1.8"/><circle cx="365.6" cy="281.0" r="1.8"/><circle cx="367.8" cy="290.1" r="1.8"/><circle cx="370.1" cy="296.7" r="1.8"/><circle cx="372.3" cy="301.7" r="1.8"/><circle cx="374.6" cy="305.8" r="1.8"/><circle cx="376.9" cy="309.5" r="1.8"/><circle cx="379.1" cy="312.5" r="1.8"/><circle cx="381.4" cy="314.9" r="1.8"/><circle cx="383.6" cy="316.8" r="1.8"/><circle cx="385.9" cy="318.5" r="1.8"/><circle cx="388.2" cy="319.9" r="1.8"/><circle cx="390.4" cy="320.9" r="1.8"/><circle cx="392.7" cy="321.6" r="1.8"/><circle cx="394.9" cy="322.2" r="1.8"/><circle cx="397.2" cy="322.6" r="1.8"/><circle cx="399.5" cy="323.0" r="1.8"/><circle cx="401.7" cy="323.1" r="1.8"/><circle cx="404.0" cy="322.8" r="1.8"/><circle cx="406.2" cy="322.4" r="1.8"/><circle cx="408.5" cy="321.7" r="1.8"/><circle cx="410.8" cy="320.8" r="1.8"/><circle cx="413.0" cy="319.5" r="1.8"/><circle cx="415.3" cy="317.8" r="1.8"/><circle cx="417.5" cy="315.4" r="1.8"/><circle cx="419.8" cy="312.2" r="1.8"/><circle cx="422.1" cy="307.4" r="1.8"/><circle cx="424.3" cy="299.3" r="1.8"/><circle cx="426.6" cy="279.9" r="1.8"/></g>
<path d="M298.2 341.4 C298.6 344.0 299.7 352.8 300.5 357.8 C301.3 362.8 302.3 367.8 303.1 372.5 C303.9 377.2 304.6 381.5 305.3 387.2 C306.0 392.9 307.0 403.2 307.6 408.4 C308.2 413.6 308.4 419.3 308.9 419.8 C309.4 420.3 310.0 413.7 310.6 411.6 C311.2 409.5 312.0 407.7 312.9 406.7 C313.8 405.7 314.8 405.0 316.1 405.1 C317.4 405.2 319.4 406.6 321.0 407.1 C322.6 407.6 324.3 408.6 325.9 408.4 C327.5 408.2 329.0 407.0 330.8 405.8 C332.6 404.6 335.3 402.6 337.4 401.2 C339.5 399.8 341.8 398.4 343.9 396.9 C346.0 395.4 348.6 393.7 350.4 392.0 C352.2 390.3 354.0 389.3 355.3 386.2 C356.6 383.1 357.8 377.0 358.6 372.5 C359.4 368.0 359.8 363.7 360.2 357.8 C360.6 351.9 360.8 335.9 361.2 335.9 C361.6 335.9 362.0 350.9 362.5 357.8 C363.0 364.7 363.8 373.8 364.5 379.0 C365.2 384.2 365.8 387.0 366.7 390.4 C367.6 393.8 368.7 397.1 370.0 400.2 C371.3 403.3 373.1 407.2 374.9 410.0 C376.7 412.8 379.3 415.7 381.4 417.5 C383.5 419.3 385.6 420.4 388.0 421.4 C390.4 422.4 393.5 423.5 396.1 424.0 C398.7 424.5 401.7 424.6 404.3 424.7 C406.9 424.8 410.4 425.3 412.5 424.7 C414.6 424.1 415.8 422.9 417.4 420.8 C419.0 418.7 421.1 414.9 422.3 411.6 C423.5 408.3 424.1 404.9 424.9 400.2 C425.7 395.5 426.7 387.2 427.2 382.2 C427.7 377.2 428.1 371.1 428.3 369.0" fill="none" stroke="#000" stroke-width="1.5" stroke-linejoin="round" clip-path="url(#cc)"/>
<g fill="#000" clip-path="url(#cc)"><circle cx="300.0" cy="354.6" r="1.8"/><circle cx="302.3" cy="367.8" r="1.8"/><circle cx="304.5" cy="381.6" r="1.8"/><circle cx="306.8" cy="400.8" r="1.8"/><circle cx="309.1" cy="419.7" r="1.8"/><circle cx="311.3" cy="409.5" r="1.8"/><circle cx="313.6" cy="406.0" r="1.8"/><circle cx="315.8" cy="405.1" r="1.8"/><circle cx="318.1" cy="405.8" r="1.8"/><circle cx="320.4" cy="406.9" r="1.8"/><circle cx="322.6" cy="407.7" r="1.8"/><circle cx="324.9" cy="408.4" r="1.8"/><circle cx="327.1" cy="408.0" r="1.8"/><circle cx="329.4" cy="406.7" r="1.8"/><circle cx="331.7" cy="405.2" r="1.8"/><circle cx="333.9" cy="403.7" r="1.8"/><circle cx="336.2" cy="402.0" r="1.8"/><circle cx="338.4" cy="400.5" r="1.8"/><circle cx="340.7" cy="399.0" r="1.8"/><circle cx="343.0" cy="397.6" r="1.8"/><circle cx="345.2" cy="396.0" r="1.8"/><circle cx="347.5" cy="394.4" r="1.8"/><circle cx="349.7" cy="392.6" r="1.8"/><circle cx="352.0" cy="390.6" r="1.8"/><circle cx="354.3" cy="388.1" r="1.8"/><circle cx="356.5" cy="382.4" r="1.8"/><circle cx="358.8" cy="371.4" r="1.8"/><circle cx="361.0" cy="337.0" r="1.8"/><circle cx="363.3" cy="367.4" r="1.8"/><circle cx="365.6" cy="385.6" r="1.8"/><circle cx="367.8" cy="394.3" r="1.8"/><circle cx="370.1" cy="400.4" r="1.8"/><circle cx="372.3" cy="405.4" r="1.8"/><circle cx="374.6" cy="409.5" r="1.8"/><circle cx="376.9" cy="412.7" r="1.8"/><circle cx="379.1" cy="415.3" r="1.8"/><circle cx="381.4" cy="417.5" r="1.8"/><circle cx="383.6" cy="419.2" r="1.8"/><circle cx="385.9" cy="420.4" r="1.8"/><circle cx="388.2" cy="421.5" r="1.8"/><circle cx="390.4" cy="422.4" r="1.8"/><circle cx="392.7" cy="423.1" r="1.8"/><circle cx="394.9" cy="423.7" r="1.8"/><circle cx="397.2" cy="424.2" r="1.8"/><circle cx="399.5" cy="424.5" r="1.8"/><circle cx="401.7" cy="424.6" r="1.8"/><circle cx="404.0" cy="424.7" r="1.8"/><circle cx="406.2" cy="424.8" r="1.8"/><circle cx="408.5" cy="425.0" r="1.8"/><circle cx="410.8" cy="425.0" r="1.8"/><circle cx="413.0" cy="424.5" r="1.8"/><circle cx="415.3" cy="423.2" r="1.8"/><circle cx="417.5" cy="420.6" r="1.8"/><circle cx="419.8" cy="417.0" r="1.8"/><circle cx="422.1" cy="412.2" r="1.8"/><circle cx="424.3" cy="403.6" r="1.8"/><circle cx="426.6" cy="387.7" r="1.8"/></g>
<text transform="translate(302.8,181.8) scale(1.06,1)" class="se bd" font-size="14.6">(A)</text>
<text transform="translate(302.8,252) scale(1.06,1)" class="se bd" font-size="14.6">(B)</text>
<text transform="translate(302.3,352) scale(1.06,1)" class="se bd" font-size="14.6">(C)</text>
<text x="234.8" y="171.2" font-family="Liberation Sans, sans-serif" font-size="11" class="bd">(c)</text>
<text x="294.5" y="459.3" text-anchor="middle" font-family="Liberation Sans, sans-serif" fill="#111" class="bd2" font-size="9.1">0</text>
<text x="317.1" y="459.3" text-anchor="middle" font-family="Liberation Sans, sans-serif" fill="#111" class="bd2" font-size="9.1">1</text>
<text x="339.7" y="459.3" text-anchor="middle" font-family="Liberation Sans, sans-serif" fill="#111" class="bd2" font-size="9.1">2</text>
<text x="362.3" y="459.3" text-anchor="middle" font-family="Liberation Sans, sans-serif" fill="#111" class="bd2" font-size="9.1">3</text>
<text x="384.9" y="459.3" text-anchor="middle" font-family="Liberation Sans, sans-serif" fill="#111" class="bd2" font-size="9.1">4</text>
<text x="407.5" y="459.3" text-anchor="middle" font-family="Liberation Sans, sans-serif" fill="#111" class="bd2" font-size="9.1">5</text>
<text x="430.1" y="459.3" text-anchor="middle" font-family="Liberation Sans, sans-serif" fill="#111" class="bd2" font-size="9.1">6</text>
<text x="334" y="470.8" font-family="Liberation Sans, sans-serif" fill="#111" class="bd2" font-size="10.2" textLength="55.6" lengthAdjust="spacingAndGlyphs">L / unit of c*</text>
<text transform="translate(261.3,340.5) rotate(-90)" class="se bd" font-size="14">Reflectivity</text>
</g>
</g>
</svg>
</body></html>
